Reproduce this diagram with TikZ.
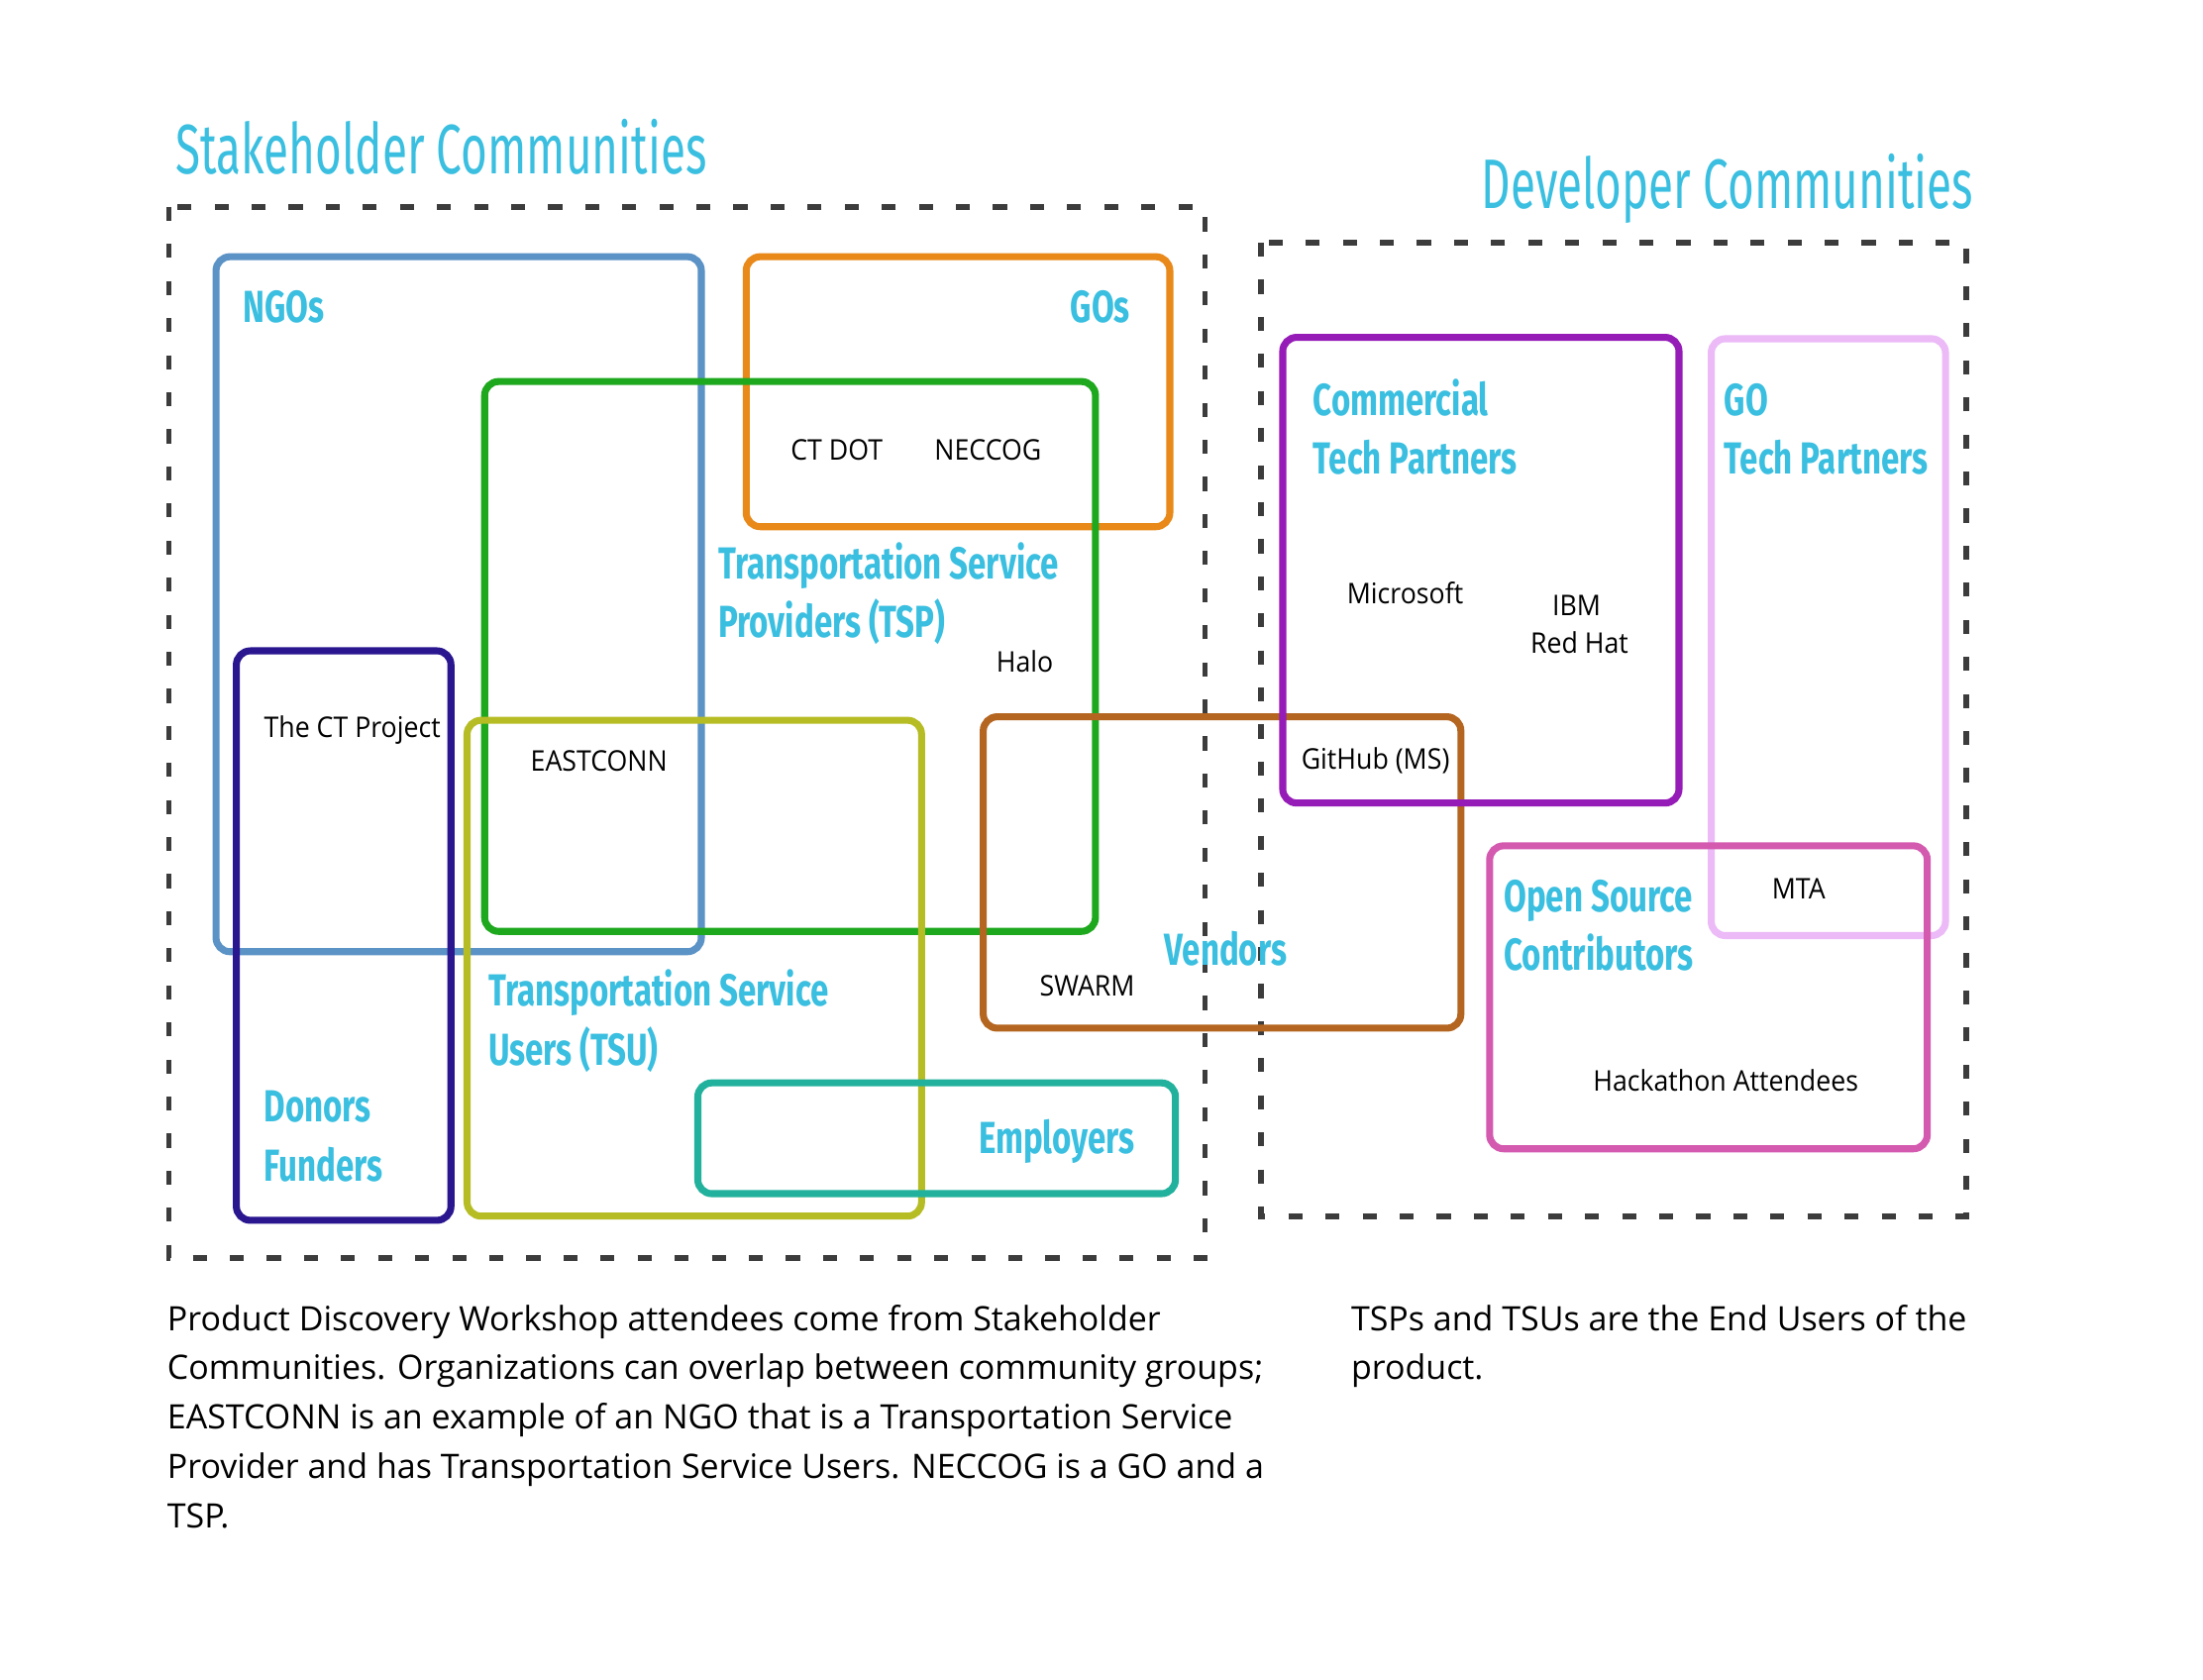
\documentclass[tikz,border=0pt]{standalone}
\usepackage{fontspec}
\setmainfont{Open Sans}
\newfontfamily\titlefont[FakeStretch=0.648]{Fira Sans}
\newfontfamily\labelfont[FakeStretch=0.73]{Fira Sans}
\newfontfamily\smallfont[FakeStretch=0.93]{Open Sans}
\newfontfamily\bodyfont[FakeStretch=1.0]{Open Sans}
\definecolor{headcyan}{HTML}{3ABFE0}
\definecolor{dashgray}{HTML}{3C3C3C}
\definecolor{ngoblue}{HTML}{5B93C6}
\definecolor{goorange}{HTML}{E8891A}
\definecolor{tspgreen}{HTML}{1EA81E}
\definecolor{donornavy}{HTML}{2A168F}
\definecolor{tsuolive}{HTML}{B6BD24}
\definecolor{empteal}{HTML}{22B19C}
\definecolor{vendbrown}{HTML}{B4651F}
\definecolor{compurple}{HTML}{961CB7}
\definecolor{gotechpink}{HTML}{EBBAF7}
\definecolor{osmagenta}{HTML}{D45AB0}
\tikzset{
  grp/.style={line width=3.5pt, rounded corners=7pt},
  dashbox/.style={draw=dashgray, line width=2.8pt, dash pattern=on 7pt off 11.5pt},
  title/.style={font=\titlefont\fontsize{35}{40}\selectfont, text=headcyan, anchor=base west, inner sep=0pt},
  lbl/.style={font=\labelfont\bfseries\fontsize{22.4}{26}\selectfont, text=headcyan, anchor=base west, inner sep=0pt},
  txt/.style={font=\smallfont\fontsize{14.2}{17}\selectfont, text=black, anchor=base west, inner sep=0pt},
  body/.style={font=\bodyfont\fontsize{16.8}{20}\selectfont, text=black, anchor=base west, inner sep=0pt},
}
\begin{document}
\begin{tikzpicture}[x=0.7pt, y=-0.7pt]
\useasboundingbox[fill=white] (0,0) rectangle (1570.6,1197.7);

% titles
\node[title] (stitle) at (125,124) {Stakeholder Communities};
\node[title] (dtitle) at (1056,149) {Developer Communities};

% dashed community boxes
\draw[dashbox] (120.5,147.5) rectangle (859,897);
\draw[dashbox] (899,173) rectangle (1402,867);

% stakeholder groups
\draw[grp, draw=ngoblue] (154,183) rectangle (500,678.5);
\draw[grp, draw=goorange] (532,183) rectangle (834,375.5);
\draw[grp, draw=tspgreen] (345.5,272) rectangle (781,664);
\draw[grp, draw=donornavy] (168.5,464) rectangle (321.5,870);
\draw[grp, draw=tsuolive] (333,513.5) rectangle (657,867);
\draw[grp, draw=empteal] (497.5,772) rectangle (838,851);
\draw[grp, draw=vendbrown] (701,511) rectangle (1041.5,733);

% developer groups
\draw[grp, draw=compurple] (914.5,240.5) rectangle (1197,572.5);
\draw[grp, draw=gotechpink] (1220,241.5) rectangle (1387,667);
\draw[grp, draw=osmagenta] (1062,603) rectangle (1374,819);

% group labels
\node[lbl] (ngos) at (173,230) {NGOs};
\node[lbl, anchor=base east] (gos) at (806,230) {GOs};
\node[lbl] (tsp1) at (512,412.5) {Transportation Service};
\node[lbl] (tsp2) at (512,454.5) {Providers (TSP)};
\node[lbl] (tsu1) at (348,717.5) {Transportation Service};
\node[lbl] (tsu2) at (348,759.5) {Users (TSU)};
\node[lbl] (don1) at (188,800) {Donors};
\node[lbl] (don2) at (188,842) {Funders};
\node[lbl] (emp) at (697.5,822.5) {Employers};
\node[lbl] (vend) at (830,688.5) {Vendors};
\node[lbl] (com1) at (936,296) {Commercial};
\node[lbl] (com2) at (936,338) {Tech Partners};
\node[lbl] (got1) at (1229,296) {GO};
\node[lbl] (got2) at (1229,338) {Tech Partners};
\node[lbl] (os1) at (1072,650) {Open Source};
\node[lbl] (os2) at (1072,692) {Contributors};

% organisations
\node[txt] (ctdot) at (563.5,328) {CT DOT};
\node[txt] (neccog) at (666,328) {NECCOG};
\node[txt] (halo) at (710,479) {Halo};
\node[txt] (ctproj) at (188,525.5) {The CT Project};
\node[txt] (eastconn) at (378,549.5) {EASTCONN};
\node[txt] (swarm) at (741,710) {SWARM};
\node[txt] (msft) at (960,430.5) {Microsoft};
\node[txt, anchor=base] (ibm) at (1124,439) {IBM};
\node[txt, anchor=base] (redhat) at (1126,466) {Red Hat};
\node[txt] (github) at (927.5,548.5) {GitHub (MS)};
\node[txt] (mta) at (1263,641) {MTA};
\node[txt] (hack) at (1135.5,778) {Hackathon Attendees};

% captions
\node[body] (c1) at (119,948.5) {Product Discovery Workshop attendees come from Stakeholder};
\node[body] (c2) at (119,983.5) {Communities. Organizations can overlap between community groups;};
\node[body] (c3) at (119,1019) {EASTCONN is an example of an NGO that is a Transportation Service};
\node[body] (c4) at (119,1054) {Provider and has Transportation Service Users. NECCOG is a GO and a};
\node[body] (c5) at (119,1089.5) {TSP.};
\node[body] (d1) at (963,948.5) {TSPs and TSUs are the End Users of the};
\node[body] (d2) at (963,983.5) {product.};
\end{tikzpicture}
\end{document}
